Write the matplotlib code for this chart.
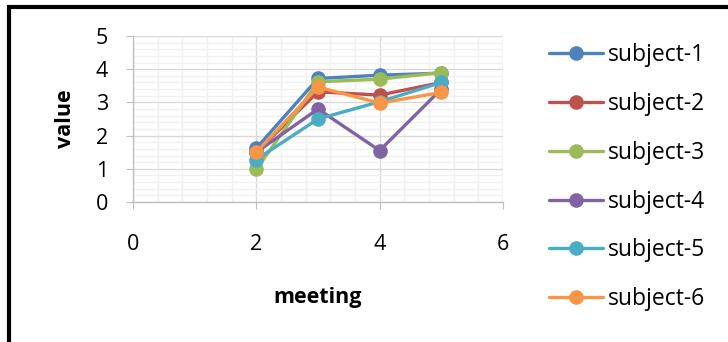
import matplotlib
matplotlib.use("Agg")
import matplotlib.pyplot as plt
from matplotlib.patches import Rectangle
from matplotlib.ticker import MultipleLocator

meetings = [2, 3, 4, 5]
subject_1 = [1.62, 3.72, 3.82, 3.88]
subject_2 = [1.50, 3.32, 3.22, 3.60]
subject_3 = [0.98, 3.62, 3.70, 3.90]
subject_4 = [1.50, 2.80, 1.55, 3.40]
subject_5 = [1.28, 2.50, 3.02, 3.60]
subject_6 = [1.50, 3.46, 2.98, 3.30]
labels = ["subject-1", "subject-2", "subject-3", "subject-4", "subject-5", "subject-6"]
colors = ["#4F81BD", "#C0504D", "#9BBB59", "#8064A2", "#4BACC6", "#F79646"]
series = [subject_1, subject_2, subject_3, subject_4, subject_5, subject_6]

plt.rcParams['font.family'] = ['Open Sans', 'DejaVu Sans']

W, H = 728, 342
fig = plt.figure(figsize=(W / 100, H / 100), dpi=100)
ax = fig.add_axes([133 / W, 1 - 202 / H, 370 / W, 166 / H])

for vals, lab, col in zip(series, labels, colors):
    ax.plot(meetings, vals, color=col, lw=2.4, marker='o', markersize=9.5,
            label=lab, solid_capstyle='round')

ax.set_xlim(0, 6)
ax.set_ylim(0, 5)
ax.xaxis.set_major_locator(MultipleLocator(2))
ax.xaxis.set_minor_locator(MultipleLocator(0.4))
ax.yaxis.set_major_locator(MultipleLocator(1))
ax.yaxis.set_minor_locator(MultipleLocator(0.2))
ax.grid(which='major', color='#d9d9d9', lw=1.0)
ax.grid(which='minor', color='#f0f0f0', lw=1.0)
ax.set_axisbelow(True)
for s in ['top', 'right']:
    ax.spines[s].set_visible(False)
for s in ['left', 'bottom']:
    ax.spines[s].set_color('#bfbfbf')
    ax.spines[s].set_linewidth(1.0)
ax.tick_params(which='major', length=5, color='#bfbfbf', labelsize=15.5)
ax.tick_params(axis='y', which='major', pad=13)
ax.tick_params(axis='x', which='major', pad=18)
ax.tick_params(which='minor', length=0)
ax.set_xlabel('meeting', fontsize=15.5, fontweight='bold', labelpad=23)
ax.set_ylabel('value', fontsize=15.5, fontweight='bold', labelpad=14)

fig.legend(loc='upper left', bbox_to_anchor=(549 / W, 1 - 43 / H), frameon=False,
           fontsize=16.5, labelspacing=1.085, handlelength=2.36, handletextpad=0.22,
           borderaxespad=0, borderpad=0)

fig.patches.append(Rectangle((9 / W, -0.1), 1.2, 1 - 7 / H + 0.1, transform=fig.transFigure,
                             fill=False, edgecolor='black', lw=3.0))

fig.savefig('out.png', dpi=100)
